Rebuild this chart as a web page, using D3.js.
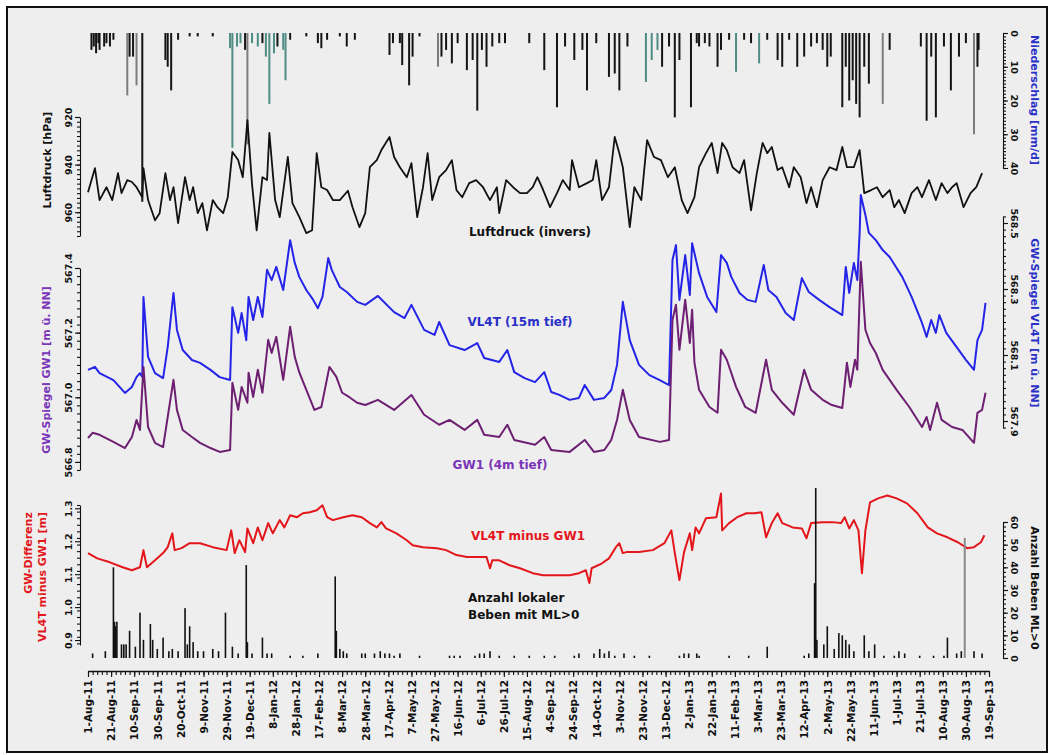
<!DOCTYPE html>
<html>
<head>
<meta charset="utf-8">
<script src="https://cdn.jsdelivr.net/npm/d3@7"></script>
<style>
  html, body { margin: 0; padding: 0; background: #fff; }
  svg { display: block; font-family: "DejaVu Sans", sans-serif; font-weight: bold; }
</style>
</head>
<body>
<svg id="chart" width="1054" height="755"></svg>
<script>
// ---- Observation period (day offsets are counted from 1 Aug 2011) ----
const startDay = [2011, 7, 1];
const lastDay = 780;                    // 19 Sep 2013
const xTickDays = d3.range(0, lastDay + 1, 20);

// ---- Daily precipitation [day, mm/d, form]  R = rain, S = snow, M = mixed ----
const precip = [
  [3,5,'R'],[5,4,'R'],[7,6,'R'],[9,3,'R'],[10,5,'R'],[14,4,'R'],[16,3,'R'],[19,4,'R'],[22,2,'R'],
  [34,18.5,'M'],[36,7,'R'],[39,7,'R'],[42,15.5,'M'],[47,50,'R'],[67,8,'R'],[69,10,'R'],[72,17,'R'],
  [78,2,'R'],[88,1,'R'],[95,1,'R'],[108,1,'R'],
  [123,4.5,'S'],[125,34,'S'],[129,4,'S'],[132,3,'S'],[136,5,'R'],[138,33,'M'],[142,3,'S'],[147,4,'S'],
  [151,3,'R'],[154,7,'S'],[157,21,'S'],[161,6,'S'],[164,4,'R'],[169,5,'S'],[171,14,'S'],[175,2,'R'],
  [189,1,'R'],[199,3,'R'],[202,4.5,'R'],[207,2,'R'],[218,1,'R'],[224,4,'R'],[231,2,'R'],
  [261,6.5,'R'],[264,3,'R'],[270,3,'R'],[272,9.5,'R'],[278,15.5,'R'],[281,7,'R'],[287,1,'R'],
  [303,10,'M'],[306,7,'R'],[310,5,'R'],[315,9,'R'],[320,3,'R'],[328,11,'R'],[333,8,'R'],[337,23,'R'],
  [341,5,'R'],[345,10,'R'],[350,4,'R'],[356,3,'R'],[361,3,'R'],[382,3,'R'],[395,11,'R'],[406,22,'R'],
  [413,4,'R'],[421,8,'R'],[428,5,'R'],[432,17,'R'],[440,3,'R'],[451,13,'R'],[456,12,'R'],[460,17,'R'],
  [467,4,'R'],[483,14.5,'S'],[488,8,'S'],[493,5,'S'],[497,10,'R'],[503,4,'R'],[508,25,'R'],[512,8,'R'],
  [522,22,'R'],[527,3,'R'],[529,4,'R'],[534,3,'R'],[538,4,'R'],[545,10,'R'],[548,5,'R'],[555,2,'R'],
  [561,11.5,'S'],[568,2,'R'],[574,3,'R'],[581,9,'S'],[588,2,'R'],[597,8,'R'],[601,10,'R'],[607,2,'R'],
  [614,10,'R'],[620,7,'R'],[626,4,'R'],[631,3,'R'],[636,5,'R'],[640,10,'R'],[643,7,'R'],[653,22,'R'],
  [656,10,'R'],[659,20,'R'],[662,14,'R'],[665,21,'R'],[668,25,'R'],[672,10,'R'],[676,15,'R'],
  [688,21,'M'],[694,5,'R'],[721,4,'R'],[726,26,'R'],[730,7,'R'],[734,25,'R'],[741,4,'R'],[747,17,'R'],
  [754,7,'R'],[760,3,'R'],[767,30,'M'],[770,10,'R'],[771,5,'R']
];

// ---- Air pressure [day, hPa] (plotted inverted) ----
const pressure = [
  [0,951.6],[6,941.5],[10,954.9],[16,949.5],[21,954.9],[26,943.6],[29,952.0],[34,946.5],[38,947.3],
  [42,949.5],[47,953.7],[48,941.5],[52,954.9],[58,963.4],[62,960.4],[67,943.6],[71,954.9],[74,949.5],
  [78,964.6],[84,945.3],[88,954.9],[91,949.5],[95,960.4],[99,956.2],[103,967.6],[108,954.9],[112,957.9],
  [117,960.4],[121,953.7],[125,934.7],[130,938.1],[134,945.3],[138,921.3],[142,948.2],[146,967.6],
  [151,945.3],[155,946.5],[157,926.7],[162,954.9],[166,962.1],[173,936.8],[177,956.2],[183,962.1],
  [189,968.8],[194,967.6],[198,935.2],[202,949.5],[207,950.7],[212,954.9],[218,954.9],[225,951.0],
  [229,957.9],[235,966.3],[240,960.4],[244,941.1],[250,938.1],[254,933.9],[261,928.4],[265,936.8],
  [270,941.1],[276,945.3],[280,939.4],[285,962.1],[290,949.5],[294,935.2],[298,954.9],[304,945.3],
  [310,942.3],[315,938.1],[319,950.7],[324,953.7],[330,947.8],[336,946.5],[342,949.5],[348,954.9],
  [354,949.5],[356,960.4],[362,946.5],[368,949.5],[374,952.0],[380,952.0],[385,949.5],[389,945.3],
  [393,949.5],[400,957.9],[406,952.0],[411,946.5],[417,950.7],[419,938.1],[425,949.5],[432,947.8],
  [437,946.5],[440,938.1],[445,954.9],[451,949.5],[456,928.4],[460,935.2],[463,941.1],[469,966.3],
  [473,949.5],[479,954.9],[484,929.7],[490,936.8],[496,938.1],[502,945.3],[508,941.1],[514,954.9],
  [519,960.4],[525,953.7],[529,941.1],[535,935.2],[540,930.9],[545,943.6],[549,930.9],[553,933.9],
  [558,941.1],[564,943.6],[568,938.1],[574,959.2],[579,943.6],[584,930.9],[588,935.2],[592,932.6],
  [597,942.3],[601,941.1],[607,949.5],[611,941.1],[617,945.3],[622,956.2],[626,949.5],[631,957.9],
  [636,946.5],[642,941.1],[648,942.3],[653,932.6],[657,941.1],[663,941.1],[668,933.9],[672,952.0],
  [678,950.7],[683,949.5],[688,953.7],[694,950.7],[698,957.9],[702,954.9],[707,960.4],[713,952.0],
  [718,949.5],[722,953.7],[728,946.5],[734,954.9],[739,947.8],[744,952.0],[748,949.5],[752,947.8],
  [758,957.9],[764,952.0],[769,949.5],[774,943.6]
];

// ---- Groundwater level VL4T, 15 m deep [day, m a.s.l.] ----
const vl4t = [
  [0,568.055],[6,568.064],[10,568.045],[22,568.024],[32,567.985],[38,568.003],[42,568.033],[45,568.045],
  [47,568.033],[48,568.276],[52,568.094],[58,568.045],[65,568.030],[69,568.124],[74,568.288],[77,568.176],
  [82,568.115],[90,568.085],[97,568.076],[106,568.055],[114,568.033],[123,568.024],[125,568.245],
  [130,568.167],[133,568.227],[137,568.145],[139,568.276],[143,568.206],[147,568.276],[151,568.215],
  [155,568.358],[159,568.327],[163,568.367],[169,568.297],[175,568.448],[179,568.379],[183,568.336],
  [189,568.297],[195,568.267],[199,568.242],[203,568.276],[208,568.394],[211,568.358],[218,568.306],
  [224,568.291],[233,568.261],[240,568.252],[251,568.279],[265,568.230],[274,568.212],[280,568.252],
  [291,568.176],[300,568.161],[304,568.200],[313,568.130],[326,568.115],[337,568.136],[343,568.091],
  [356,568.079],[363,568.115],[369,568.048],[378,568.030],[387,568.018],[395,568.048],[401,567.988],
  [408,567.979],[417,567.964],[425,567.970],[430,568.009],[438,567.964],[447,567.970],[453,567.994],
  [458,568.070],[463,568.261],[469,568.145],[477,568.070],[486,568.039],[495,568.024],[503,568.009],
  [506,568.388],[509,568.433],[512,568.267],[517,568.403],[521,568.282],[523,568.439],[529,568.348],
  [536,568.276],[544,568.230],[548,568.403],[553,568.379],[557,568.336],[564,568.288],[571,568.267],
  [578,568.261],[585,568.373],[589,568.297],[596,568.276],[604,568.227],[611,568.206],[618,568.333],
  [624,568.291],[633,568.267],[642,568.245],[653,568.221],[656,568.367],[659,568.288],[663,568.379],
  [666,568.327],[668,568.470],[669,568.585],[673,568.524],[676,568.470],[682,568.448],[688,568.418],
  [694,568.397],[705,568.336],[713,568.276],[722,568.197],[726,568.155],[730,568.206],[734,568.167],
  [737,568.221],[743,568.167],[752,568.124],[760,568.085],[767,568.055],[770,568.145],[774,568.176],
  [777,568.258]
];

// ---- Groundwater level GW1, 4 m deep [day, m a.s.l.] ----
const gw1 = [
  [0,566.874],[4,566.890],[10,566.884],[22,566.862],[32,566.843],[38,566.877],[42,566.930],[45,566.899],
  [48,567.094],[52,566.908],[58,566.859],[65,566.846],[69,566.939],[74,567.054],[77,566.961],[82,566.899],
  [90,566.877],[97,566.859],[106,566.843],[114,566.831],[123,566.837],[125,567.045],[130,566.961],
  [133,567.032],[138,566.983],[139,567.076],[143,567.001],[147,567.085],[151,567.014],[156,567.178],
  [159,567.137],[163,567.187],[169,567.054],[175,567.218],[179,567.125],[183,567.076],[189,567.023],
  [196,566.961],[202,566.970],[209,567.094],[215,567.063],[220,567.014],[226,567.001],[233,566.983],
  [240,566.976],[251,566.992],[265,566.961],[280,567.007],[291,566.946],[304,566.915],[313,566.930],
  [326,566.899],[337,566.930],[343,566.884],[356,566.877],[363,566.915],[369,566.868],[387,566.853],
  [395,566.877],[401,566.837],[417,566.831],[430,566.868],[438,566.831],[447,566.837],[453,566.868],
  [458,566.930],[463,567.023],[469,566.930],[477,566.877],[495,566.862],[503,566.868],[506,567.240],
  [509,567.286],[512,567.147],[517,567.302],[521,567.168],[523,567.271],[525,567.107],[529,567.023],
  [538,566.970],[545,566.952],[548,567.147],[553,567.116],[561,567.032],[569,566.970],[578,566.952],
  [587,567.116],[592,567.023],[601,566.983],[611,566.946],[620,567.085],[626,567.023],[636,566.992],
  [644,566.976],[653,566.967],[657,567.107],[660,567.032],[664,567.116],[666,567.085],[669,567.419],
  [673,567.209],[677,567.168],[682,567.137],[688,567.085],[700,567.023],[711,566.970],[722,566.908],
  [726,566.939],[729,566.899],[735,566.983],[739,566.930],[748,566.908],[757,566.899],[767,566.859],
  [770,566.952],[774,566.961],[777,567.014]
];

// ---- Difference VL4T minus GW1 [day, m] ----
const diff = [
  [0,1.164],[8,1.148],[19,1.136],[30,1.121],[38,1.112],[45,1.121],[48,1.173],[51,1.121],[58,1.142],
  [65,1.164],[69,1.182],[73,1.224],[75,1.173],[81,1.179],[88,1.194],[97,1.194],[108,1.182],[120,1.173],
  [124,1.233],[127,1.164],[131,1.203],[136,1.167],[138,1.239],[143,1.194],[147,1.242],[151,1.203],
  [156,1.255],[160,1.224],[166,1.264],[170,1.242],[175,1.279],[181,1.273],[186,1.285],[192,1.288],
  [198,1.294],[203,1.309],[207,1.273],[212,1.264],[221,1.273],[229,1.279],[237,1.273],[244,1.255],
  [250,1.242],[254,1.258],[258,1.239],[267,1.224],[276,1.203],[281,1.188],[290,1.182],[302,1.179],
  [310,1.173],[319,1.158],[328,1.152],[339,1.152],[345,1.152],[348,1.118],[350,1.142],[356,1.142],
  [365,1.127],[374,1.118],[385,1.103],[394,1.097],[405,1.097],[417,1.097],[425,1.103],[431,1.112],
  [434,1.073],[436,1.118],[445,1.133],[451,1.148],[457,1.182],[460,1.194],[463,1.164],[466,1.167],
  [477,1.167],[489,1.173],[499,1.194],[505,1.233],[508,1.164],[512,1.082],[516,1.167],[521,1.224],
  [523,1.173],[526,1.242],[529,1.224],[535,1.270],[544,1.273],[548,1.345],[549,1.233],[555,1.255],
  [562,1.273],[570,1.285],[577,1.285],[583,1.288],[587,1.212],[592,1.255],[597,1.285],[601,1.255],
  [610,1.242],[618,1.239],[622,1.209],[626,1.255],[636,1.258],[644,1.258],[652,1.255],[655,1.273],
  [659,1.239],[663,1.264],[667,1.233],[670,1.103],[673,1.233],[677,1.318],[684,1.330],[692,1.339],
  [700,1.330],[709,1.315],[718,1.285],[727,1.242],[735,1.224],[744,1.212],[753,1.197],[761,1.179],
  [767,1.182],[773,1.197],[776,1.218]
];

// ---- Number of local earthquakes with ML > 0 per day [day, count] ----
const quakes = [
  [4,2],[15,3],[22,40],[23,16],[24,14],[25,16],[29,6],[31,6],[33,6],[36,12],[41,5],[45,20],[48,8],
  [54,15],[56,8],[60,4],[65,9],[70,3],[73,4],[78,3],[84,22],[86,6],[88,14],[91,7],[95,3],[100,3],
  [108,4],[113,3],[119,20],[125,5],[130,2],[137,41],[138,7],[142,2],[151,9],[155,2],[159,2],[175,1],
  [186,1],[199,2],[214,36],[215,12],[218,4],[221,3],[224,2],[237,2],[240,2],[248,2],[253,3],[257,2],
  [261,2],[265,1],[270,2],[287,1],[313,1],[317,1],[322,1],[335,1],[339,2],[343,2],[348,3],[356,1],
  [369,1],[382,1],[395,1],[404,1],[421,1],[425,2],[438,2],[443,4],[447,2],[451,3],[456,1],[464,2],
  [473,1],[486,1],[512,1],[516,2],[520,2],[527,2],[529,1],[555,1],[572,1],[588,5],[620,1],[624,2],
  [629,33],[630,75],[631,8],[637,6],[640,14],[646,4],[650,11],[653,10],[656,8],[659,6],[663,3],
  [672,10],[676,3],[681,6],[689,1],[698,1],[702,3],[707,2],[720,1],[732,1],[741,1],[744,9],[752,2],
  [756,3],[767,3],[774,2]
];
const quakesSecondary = [[759,53]];

// ---- Axis tick values ----
const precipTicks = [0, 10, 20, 30, 40];
const pressureTicks = [920, 940, 960];
const gw1Ticks = [566.8, 567.0, 567.2, 567.4];
const vl4tTicks = [567.9, 568.1, 568.3, 568.5];
const diffTicks = [0.9, 1.0, 1.1, 1.2, 1.3];
const quakeTicks = [0, 10, 20, 30, 40, 50, 60];

// ================== drawing ==================
const svg = d3.select("#chart");
const COL = {
  pressure: "#111111", vl4t: "#2424e8", gw1: "#6d1f72", diff: "#e3161b",
  gw1Text: "#7a34b8", vl4tText: "#2a30c8", rain: "#141414", mixed: "#7d7d7d", snow: "#4f8d84"
};

// frame
svg.append("rect").attr("x", 7).attr("y", 7).attr("width", 1040).attr("height", 745)
  .attr("fill", "#eeeeee").attr("stroke", "#111").attr("stroke-width", 2);

const day0 = new Date(Date.UTC(startDay[0], startDay[1], startDay[2]));
const dt = d => d3.utcDay.offset(day0, d);
const x = d3.scaleUtc().domain([dt(0), dt(lastDay)]).range([88, 989]);

const yPrecip = d3.scaleLinear().domain([0, 40]).range([33, 168]);
const yPress = d3.scaleLinear().domain([920, 970]).range([117, 236]);
const yGw1 = d3.scaleLinear().domain([566.775, 567.4]).range([470, 268]);
const yVl4t = d3.scaleLinear().domain([567.88, 568.52]).range([427.6, 216.4]);
const yDiff = d3.scaleLinear().domain([0.885, 1.31]).range([645, 505]);
const yQuake = d3.scaleLinear().domain([0, 60]).range([658, 522]);

const steps = (lo, hi, step) => d3.range(0, Math.round((hi - lo) / step) + 1).map(i => +(lo + i * step).toFixed(4));

// precipitation bars hanging from the top
const precipColor = { R: COL.rain, M: COL.mixed, S: COL.snow };
svg.append("g").selectAll("rect").data(precip).join("rect")
  .attr("x", d => x(dt(d[0])) - 1)
  .attr("y", yPrecip(0))
  .attr("width", 2)
  .attr("height", d => yPrecip(d[1]) - yPrecip(0))
  .attr("fill", d => precipColor[d[2]]);

// lines
function drawLine(data, yScale, color, width) {
  svg.append("path").datum(data)
    .attr("fill", "none").attr("stroke", color).attr("stroke-width", width)
    .attr("stroke-linejoin", "round")
    .attr("d", d3.line().x(d => x(dt(d[0]))).y(d => yScale(d[1])));
}
drawLine(pressure, yPress, COL.pressure, 1.8);
drawLine(vl4t, yVl4t, COL.vl4t, 2);
drawLine(gw1, yGw1, COL.gw1, 2);
drawLine(diff, yDiff, COL.diff, 2);

// earthquake counts
svg.append("g").selectAll("rect").data(quakes).join("rect")
  .attr("x", d => x(dt(d[0])) - 0.8)
  .attr("y", d => yQuake(d[1]))
  .attr("width", 1.6)
  .attr("height", d => yQuake(0) - yQuake(d[1]))
  .attr("fill", "#111");
svg.append("g").selectAll("rect").data(quakesSecondary).join("rect")
  .attr("x", d => x(dt(d[0])) - 1)
  .attr("y", d => yQuake(d[1]))
  .attr("width", 2)
  .attr("height", d => yQuake(0) - yQuake(d[1]))
  .attr("fill", "#8a8a8a");

// ---- axes ----
function styleAxis(g, size) {
  g.attr("font-family", "DejaVu Sans").attr("font-weight", "bold").attr("font-size", size);
  g.selectAll("path, line").attr("stroke", "#111").attr("stroke-width", 1.1);
}

function yAxis(scale, side, xPos, majors, minors, fmt) {
  const mk = side === "left" ? d3.axisLeft : d3.axisRight;
  const g = svg.append("g").attr("transform", `translate(${xPos},0)`);
  g.append("g").call(mk(scale).tickValues(minors).tickSize(3).tickFormat("").tickSizeOuter(0))
    .call(s => styleAxis(s, 9.5));
  const gm = g.append("g").call(mk(scale).tickValues(majors).tickSize(5).tickFormat(fmt).tickSizeOuter(0));
  styleAxis(gm, 9.5);
  gm.select(".domain").remove();
  gm.selectAll("text")
    .attr("x", 0).attr("y", -8).attr("dy", 0)
    .attr("text-anchor", "middle")
    .attr("fill", "#111")
    .attr("transform", `rotate(${side === "left" ? -90 : 90})`);
}

yAxis(yPress, "left", 80, pressureTicks, steps(920, 970, 2), d3.format("d"));
yAxis(yGw1, "left", 80, gw1Ticks, steps(566.775, 567.4, 0.025), d3.format(".1f"));
yAxis(yDiff, "left", 80, diffTicks, steps(0.89, 1.31, 0.02), d3.format(".1f"));
yAxis(yPrecip, "right", 1003, precipTicks, steps(0, 40, 1), d3.format("d"));
yAxis(yVl4t, "right", 1003, vl4tTicks, steps(567.88, 568.52, 0.02), d3.format(".1f"));
yAxis(yQuake, "right", 1003, quakeTicks, steps(0, 60, 2), d3.format("d"));

// time axis
const gx = svg.append("g").attr("transform", "translate(0,671)");
gx.append("g").call(d3.axisBottom(x).tickValues(steps(0, lastDay, 4).map(dt)).tickSize(4).tickFormat("").tickSizeOuter(0))
  .call(s => styleAxis(s, 10.5));
const gxm = gx.append("g").call(d3.axisBottom(x).tickValues(xTickDays.map(dt)).tickSize(6)
  .tickFormat(d3.utcFormat("%-d-%b-%y")).tickSizeOuter(0));
styleAxis(gxm, 10.5);
gxm.select(".domain").attr("stroke-width", 1.6);
gxm.selectAll("text")
  .attr("x", -9).attr("y", 0).attr("dy", "0.36em")
  .attr("text-anchor", "end")
  .attr("fill", "#111")
  .attr("transform", "rotate(-90)");

// ---- titles ----
function vText(cx, cy, str, angle, color, size) {
  svg.append("text")
    .attr("transform", `translate(${cx},${cy}) rotate(${angle})`)
    .attr("text-anchor", "middle").attr("dy", "0.35em")
    .attr("font-size", size).attr("fill", color).text(str);
}
vText(47, 160, "Luftdruck [hPa]", -90, "#111", 11);
vText(46, 370, "GW-Spiegel GW1 [m ü. NN]", -90, COL.gw1Text, 11);
vText(28, 553, "GW-Differenz", -90, COL.diff, 11);
vText(42, 577, "VL4T minus GW1 [m]", -90, COL.diff, 11);
vText(1035, 100, "Niederschlag [mm/d]", 90, COL.vl4tText, 11);
vText(1035, 323, "GW-Spiegel VL4T [m ü. NN]", 90, COL.vl4tText, 11);
vText(1035, 588, "Anzahl Beben ML>0", 90, "#111", 11);

// ---- in-plot series labels ----
function hText(xPos, yPos, str, color, anchor) {
  svg.append("text").attr("x", xPos).attr("y", yPos).attr("dy", "0.35em")
    .attr("text-anchor", anchor).attr("font-size", 12).attr("fill", color).text(str);
}
hText(530, 232, "Luftdruck (invers)", "#111", "middle");
hText(520, 322, "VL4T (15m tief)", COL.vl4tText, "middle");
hText(500, 465, "GW1 (4m tief)", COL.gw1Text, "middle");
hText(528, 536, "VL4T minus GW1", COL.diff, "middle");
hText(468, 598, "Anzahl lokaler", "#111", "start");
hText(468, 615, "Beben mit ML>0", "#111", "start");
</script>
</body>
</html>
